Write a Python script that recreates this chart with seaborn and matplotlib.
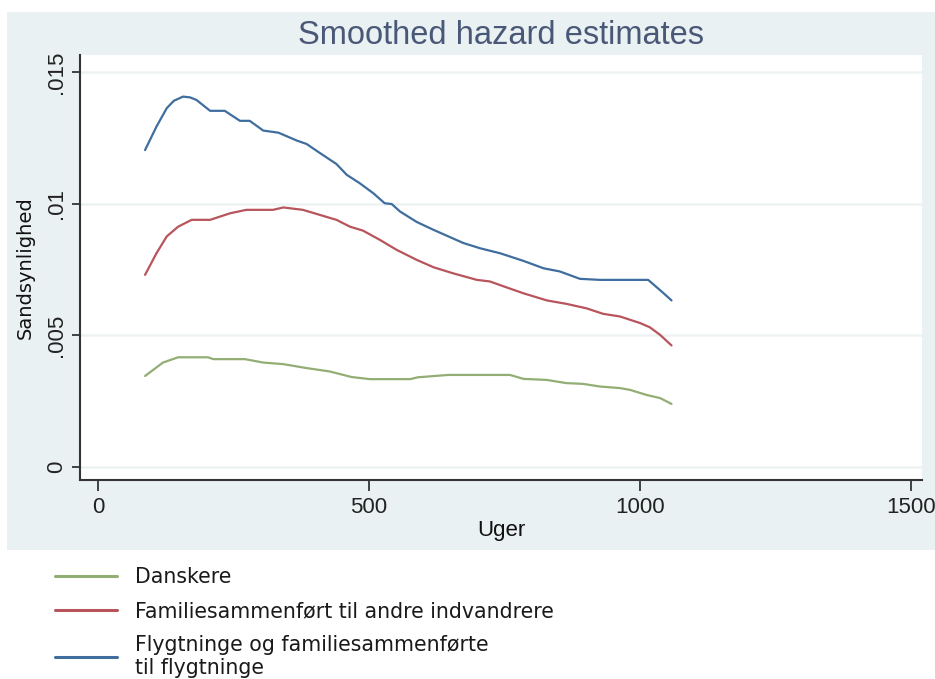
import matplotlib
matplotlib.use("Agg")
import matplotlib.pyplot as plt
from matplotlib.patches import Rectangle
import numpy as np
import pandas as pd
import seaborn as sns

# values
groups = ["Danskere",
          "Familiesammenført til andre indvandrere",
          "Flygtninge og familiesammenførte\ntil flygtninge"]
colors = ["#93ae74", "#b8545c", "#3f6e9e"]

weeks_dk = [87, 120, 148, 203, 213, 271, 305, 342, 385, 428, 468, 502, 576,
            590, 646, 760, 785, 828, 864, 895, 926, 963, 982, 1012, 1037, 1058]
hazard_dk = [.00345, .00396, .00416, .00416, .00409, .00409, .00396, .00390,
             .00375, .00362, .00341, .00333, .00333, .00340, .00349, .00349,
             .00334, .00330, .00318, .00315, .00305, .00299, .00292, .00273,
             .00261, .00239]

weeks_fam = [87, 108, 127, 148, 173, 207, 244, 274, 323, 342, 378, 409, 440,
             465, 489, 520, 551, 588, 619, 655, 699, 723, 753, 785, 828, 864,
             901, 932, 963, 1000, 1018, 1037, 1058]
hazard_fam = [.00729, .00811, .00875, .00912, .00938, .00938, .00963, .00976,
              .00976, .00985, .00976, .00957, .00938, .00912, .00897, .00862,
              .00824, .00786, .00758, .00735, .00710, .00704, .00682, .00659,
              .00632, .00619, .00602, .00581, .00571, .00546, .00530, .00501,
              .00461]

weeks_fly = [87, 108, 127, 140, 157, 170, 182, 207, 234, 262, 280, 305, 333,
             367, 385, 410, 440, 459, 483, 508, 529, 542, 557, 588, 619, 674,
             705, 742, 785, 822, 852, 889, 926, 1015, 1043, 1058]
hazard_fly = [.01203, .01292, .01362, .01390, .01406, .01403, .01393, .01352,
              .01352, .01314, .01314, .01277, .01269, .01239, .01226, .01191,
              .01150, .01109, .01077, .01039, .01001, .00998, .00970, .00930,
              .00900, .00850, .00830, .00811, .00782, .00754, .00742, .00714,
              .00710, .00710, .00660, .00632]

x_ticks = [0, 500, 1000, 1500]
y_ticks = [0, 0.005, 0.01, 0.015]
y_tick_labels = ["0", ".005", ".01", ".015"]

df = pd.concat([
    pd.DataFrame({"Uger": weeks_dk, "Sandsynlighed": hazard_dk, "group": groups[0]}),
    pd.DataFrame({"Uger": weeks_fam, "Sandsynlighed": hazard_fam, "group": groups[1]}),
    pd.DataFrame({"Uger": weeks_fly, "Sandsynlighed": hazard_fly, "group": groups[2]}),
], ignore_index=True)

sns.set_style("white")
plt.rcParams["font.family"] = ["Liberation Sans", "DejaVu Sans"]

fig = plt.figure(figsize=(9.35, 6.79), dpi=100)
W, H = 935, 679

# light bluish outer panel, behind the axes
fig.patches.append(Rectangle((7 / W, 1 - 550 / H), 1, (550 - 12) / H,
                             transform=fig.transFigure, facecolor="#eaf1f3",
                             edgecolor="none", zorder=-5))

ax = fig.add_axes([80 / W, 1 - 480 / H, (922 - 80) / W, (480 - 55) / H])
ax.set_facecolor("white")

sns.lineplot(data=df, x="Uger", y="Sandsynlighed", hue="group",
             hue_order=groups, palette=colors, estimator=None, sort=False,
             linewidth=1.6, ax=ax)

ax.set_xlim(-33, 1520)
ax.set_ylim(-0.0005, 0.01564)
ax.set_xticks(x_ticks)
ax.set_yticks(y_ticks)
ax.set_yticklabels(y_tick_labels, rotation=90, va="center")
ax.tick_params(axis="both", labelsize=16, colors="#333333", labelcolor="#222222",
               direction="out", width=1.3, length=6, bottom=True, left=True)
ax.tick_params(axis="x", length=8, pad=4)
ax.grid(axis="y", color="#edf3f3", linewidth=1.8)
ax.grid(axis="x", visible=False)
ax.set_axisbelow(True)

for side in ["top", "right"]:
    ax.spines[side].set_visible(False)
for side in ["left", "bottom"]:
    ax.spines[side].set_color("#333333")
    ax.spines[side].set_linewidth(1.5)

ax.set_xlabel("Uger", fontsize=16, labelpad=2, color="#111111")
ax.set_ylabel("Sandsynlighed", fontsize=14, family="DejaVu Sans",
              labelpad=8, color="#111111")
ax.set_title("Smoothed hazard estimates", fontsize=23.5, color="#4a5878",
             pad=8)

handles, labels = ax.get_legend_handles_labels()
ax.legend_.remove()
leg = fig.legend(handles, labels, loc="upper left",
                 bbox_to_anchor=(55 / W, 1 - 567 / H), frameon=False,
                 prop={"family": "DejaVu Sans", "size": 14.8},
                 handlelength=3.0, handletextpad=0.9, borderpad=0,
                 borderaxespad=0, labelspacing=0.68)
for t in leg.get_texts():
    t.set_linespacing(1.2)
    t.set_color("#1a1a1a")
for h in leg.get_lines():
    h.set_linewidth(2.2)

fig.savefig("out.png", dpi=100, facecolor="white")
